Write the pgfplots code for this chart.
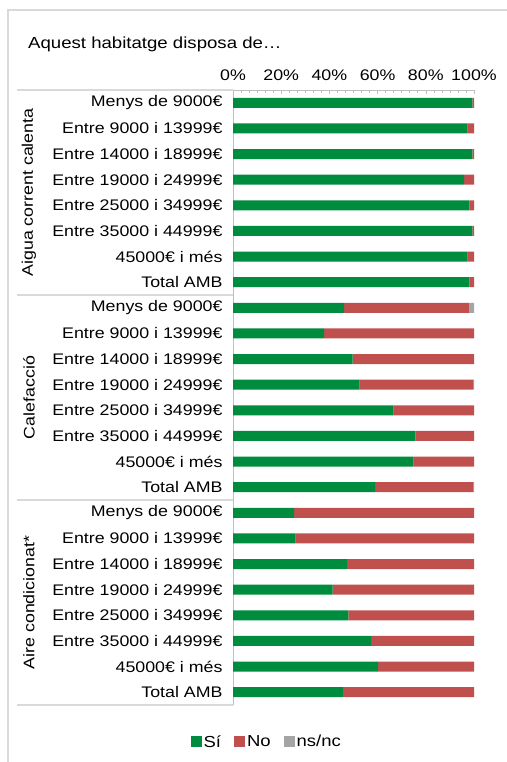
\documentclass[border=0pt]{standalone}
\usepackage{pgfplots}
\pgfplotsset{compat=1.18}
\usepackage{fontspec}
\setmainfont{Liberation Sans}[FakeStretch=1.16]
\definecolor{cSi}{HTML}{008C3F}
\definecolor{cNo}{HTML}{C0504D}
\definecolor{cNs}{HTML}{A5A5A5}
\definecolor{cLine}{HTML}{D9D9D9}
\definecolor{cAx}{HTML}{BFBFBF}
\begin{document}
\begin{tikzpicture}
\useasboundingbox (0,0) rectangle (507bp,-762bp);
\draw[cLine, line width=1.2bp] (8bp,-762bp) -- (8bp,-10bp) -- (507bp,-10bp);
\node[anchor=base west, inner sep=0pt, font=\fontsize{16.1}{19}\selectfont] at (28bp,-48bp) {Aquest habitatge disposa de…};
\begin{axis}[
  at={(233bp,-90bp)}, anchor=north west,
  scale only axis, width=241bp, height=615bp,
  xbar stacked, bar width=10bp,
  y dir=reverse,
  xmin=0, xmax=100, ymin=-0.5, ymax=23.5,
  axis x line*=top, axis y line*=left,
  axis line style={draw=cAx, line width=0.8bp},
  xtick={0,20,40,60,80,100},
  xticklabels={0\%,20\%,40\%,60\%,80\%,100\%},
  minor x tick num=5,
  tick align=inside,
  major tick length=4bp, minor tick length=2.5bp,
  x tick style={draw=cAx, line width=0.6bp},
  xticklabel style={yshift=6bp},
  ytick={0,...,23},
  yticklabels={Menys de 9000€,Entre 9000 i 13999€,Entre 14000 i 18999€,Entre 19000 i 24999€,Entre 25000 i 34999€,Entre 35000 i 44999€,45000€ i més,Total AMB,
               Menys de 9000€,Entre 9000 i 13999€,Entre 14000 i 18999€,Entre 19000 i 24999€,Entre 25000 i 34999€,Entre 35000 i 44999€,45000€ i més,Total AMB,
               Menys de 9000€,Entre 9000 i 13999€,Entre 14000 i 18999€,Entre 19000 i 24999€,Entre 25000 i 34999€,Entre 35000 i 44999€,45000€ i més,Total AMB},
  y tick style={draw=none},
  yticklabel style={xshift=-7bp},
  tick label style={font=\fontsize{15.4}{18}\selectfont},
  legend style={at={(0.14,-0.06)}, anchor=center, draw=none, fill=none,
    font=\fontsize{16}{18}\selectfont, legend columns=3,
    /tikz/every even column/.append style={column sep=11bp}},
  legend image code/.code={\fill[#1] (0bp,-5.5bp) rectangle (11bp,5.5bp);},
]
\addplot[fill=cSi, draw=none] coordinates {
(99.3,0) (97.4,1) (99.3,2) (95.9,3) (98.1,4) (99.3,5) (97.4,6) (98.1,7)
(46.1,8) (37.8,9) (49.6,10) (52.5,11) (66.6,12) (75.7,13) (74.9,14) (59.0,15)
(25.4,16) (26.0,17) (47.4,18) (41.3,19) (47.9,20) (57.3,21) (60.2,22) (45.6,23)};
\addplot[fill=cNo, draw=none] coordinates {
(0.7,0) (2.6,1) (0.7,2) (4.1,3) (1.9,4) (0.7,5) (2.6,6) (1.9,7)
(52.0,8) (62.2,9) (50.4,10) (47.1,11) (33.4,12) (24.3,13) (25.1,14) (40.6,15)
(74.6,16) (74.0,17) (52.6,18) (58.7,19) (52.1,20) (42.7,21) (39.8,22) (54.4,23)};
\addplot[fill=cNs, draw=none] coordinates {
(0,0) (0,1) (0,2) (0,3) (0,4) (0,5) (0,6) (0,7)
(1.9,8) (0,9) (0,10) (0.4,11) (0,12) (0,13) (0,14) (0.4,15)
(0,16) (0,17) (0,18) (0,19) (0,20) (0,21) (0,22) (0,23)};
\legend{Sí,No,ns/nc}
\end{axis}
\foreach \yy in {90,295,500,705} {\draw[cLine, line width=1.2bp] (17bp,-\yy bp) -- (233bp,-\yy bp);}
\begin{scope}[font=\fontsize{15.4}{18}\selectfont]
\node[rotate=90] at (29bp,-192.5bp) {Aigua corrent calenta};
\node[rotate=90] at (29bp,-397.5bp) {Calefacció};
\node[rotate=90] at (29bp,-602.5bp) {Aire condicionat*};
\end{scope}
\end{tikzpicture}
\end{document}
